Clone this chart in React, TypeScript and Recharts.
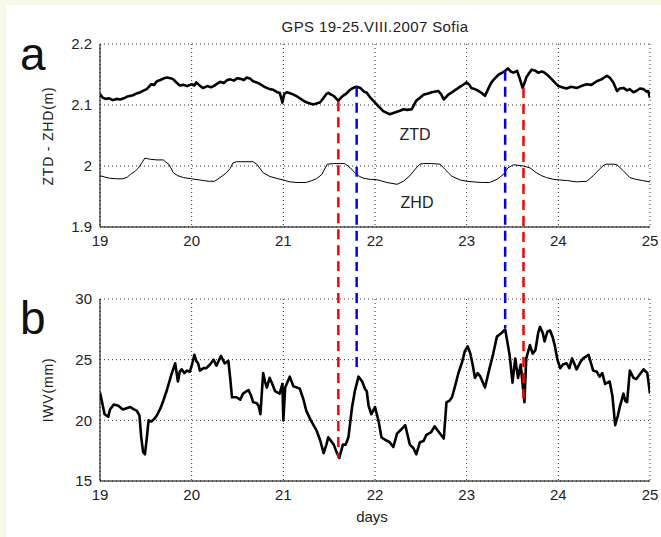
import { LineChart, Line, XAxis, YAxis, CartesianGrid, ReferenceLine } from "recharts"

// days of August 2007
const DAY_TICKS = [19, 20, 21, 22, 23, 24, 25]
const DELAY_TICKS = [1.9, 2.0, 2.1, 2.2]
const IWV_TICKS = [15, 20, 25, 30]

// ZTD (m)
const ZTD_DAYS = [
  19.0, 19.03, 19.06, 19.1, 19.14, 19.18, 19.22, 19.26, 19.3, 19.36, 19.4, 19.44, 19.48, 19.51, 19.54, 19.56,
  19.59, 19.62, 19.66, 19.7, 19.73, 19.77, 19.8, 19.84, 19.87, 19.91, 19.95, 19.98, 20.0, 20.03, 20.05, 20.08,
  20.11, 20.13, 20.17, 20.21, 20.24, 20.28, 20.31, 20.35, 20.39, 20.42, 20.46, 20.5, 20.53, 20.57, 20.6, 20.64,
  20.67, 20.71, 20.75, 20.79, 20.82, 20.85, 20.89, 20.93, 20.96, 20.98, 20.99, 21.01, 21.04, 21.08, 21.11, 21.15,
  21.19, 21.22, 21.26, 21.3, 21.33, 21.37, 21.4, 21.44, 21.47, 21.49, 21.52, 21.55, 21.58, 21.6, 21.63, 21.65,
  21.69, 21.72, 21.75, 21.78, 21.8, 21.84, 21.88, 21.91, 21.95, 22.0, 22.05, 22.09, 22.13, 22.16, 22.2, 22.24,
  22.28, 22.31, 22.35, 22.4, 22.45, 22.49, 22.53, 22.58, 22.62, 22.66, 22.69, 22.72, 22.75, 22.8, 22.85, 22.89,
  22.93, 22.97, 23.0, 23.03, 23.05, 23.09, 23.13, 23.17, 23.2, 23.24, 23.27, 23.31, 23.35, 23.39, 23.42, 23.45,
  23.48, 23.51, 23.55, 23.58, 23.61, 23.63, 23.65, 23.68, 23.71, 23.75, 23.78, 23.82, 23.85, 23.89, 23.93, 23.96,
  24.0, 24.04, 24.09, 24.14, 24.2, 24.25, 24.31, 24.36, 24.42, 24.47, 24.53, 24.56, 24.6, 24.64, 24.67, 24.71,
  24.75, 24.78, 24.82, 24.85, 24.89, 24.93, 24.96, 24.98, 25.0,
]
const ZTD_VALUES = [
  2.118, 2.112, 2.11, 2.111, 2.108, 2.11, 2.109, 2.111, 2.114, 2.116, 2.119, 2.121, 2.124, 2.126, 2.131, 2.134,
  2.133, 2.139, 2.141, 2.144, 2.145, 2.144, 2.142, 2.136, 2.132, 2.133, 2.131, 2.133, 2.134, 2.132, 2.137, 2.133,
  2.129, 2.128, 2.131, 2.129, 2.131, 2.135, 2.138, 2.136, 2.141, 2.142, 2.14, 2.144, 2.143, 2.141, 2.145, 2.143,
  2.139, 2.137, 2.134, 2.13, 2.128, 2.126, 2.125, 2.121, 2.12, 2.11, 2.104, 2.118, 2.121, 2.119, 2.117, 2.114,
  2.11, 2.107, 2.104, 2.102, 2.101, 2.103, 2.104, 2.112, 2.118, 2.12, 2.117, 2.115, 2.11, 2.107, 2.112, 2.115,
  2.119, 2.124, 2.127, 2.129, 2.13, 2.128, 2.122, 2.12, 2.112, 2.104, 2.096, 2.09, 2.087, 2.085, 2.087, 2.089,
  2.091, 2.093, 2.092, 2.093, 2.107, 2.112, 2.117, 2.119, 2.121, 2.122, 2.123, 2.118, 2.109, 2.117, 2.122, 2.126,
  2.13, 2.134, 2.137, 2.133, 2.128, 2.126, 2.123, 2.119, 2.115, 2.128, 2.137, 2.144, 2.15, 2.153, 2.156, 2.16,
  2.155, 2.153, 2.156, 2.143, 2.128, 2.136, 2.145, 2.152, 2.158, 2.156, 2.153, 2.155, 2.153, 2.148, 2.142, 2.137,
  2.131, 2.129, 2.127, 2.13, 2.128, 2.131, 2.134, 2.133, 2.139, 2.142, 2.148, 2.145, 2.137, 2.123, 2.127, 2.128,
  2.124, 2.126, 2.121, 2.123, 2.127, 2.126, 2.122, 2.123, 2.112,
]

// ZHD (m)
const ZHD_DAYS = [
  19.0, 19.05, 19.1, 19.18, 19.25, 19.3, 19.33, 19.38, 19.42, 19.46, 19.49, 19.52, 19.55, 19.62, 19.69, 19.72,
  19.75, 19.78, 19.8, 19.85, 19.91, 20.0, 20.09, 20.18, 20.25, 20.31, 20.38, 20.42, 20.45, 20.49, 20.58, 20.67,
  20.71, 20.75, 20.78, 20.85, 20.92, 21.0, 21.07, 21.15, 21.25, 21.31, 21.36, 21.42, 21.45, 21.48, 21.55, 21.62,
  21.67, 21.73, 21.78, 21.82, 21.87, 21.95, 22.0, 22.06, 22.13, 22.24, 22.31, 22.38, 22.44, 22.49, 22.53, 22.62,
  22.71, 22.76, 22.8, 22.84, 22.93, 23.0, 23.07, 23.16, 23.25, 23.33, 23.4, 23.45, 23.51, 23.56, 23.62, 23.69,
  23.76, 23.82, 23.87, 23.95, 24.02, 24.1, 24.2, 24.31, 24.38, 24.45, 24.5, 24.53, 24.6, 24.64, 24.71, 24.78,
  24.85, 24.92, 25.0,
]
const ZHD_VALUES = [
  1.984, 1.982, 1.98, 1.979, 1.979, 1.982, 1.986, 1.991, 1.997, 2.006, 2.013, 2.012, 2.011, 2.01, 2.01, 2.006,
  2.003, 1.995, 1.989, 1.984, 1.981, 1.979, 1.977, 1.975, 1.975, 1.981, 1.989, 1.996, 2.005, 2.007, 2.007, 2.007,
  2.003, 1.995, 1.989, 1.983, 1.98, 1.977, 1.974, 1.973, 1.973, 1.976, 1.979, 1.986, 1.995, 2.003, 2.004, 2.004,
  2.004, 1.997, 1.989, 1.984, 1.98, 1.978, 1.978, 1.976, 1.973, 1.97, 1.975, 1.984, 1.995, 2.003, 2.004, 2.004,
  2.003, 1.995, 1.989, 1.983, 1.977, 1.975, 1.974, 1.973, 1.973, 1.978, 1.986, 1.997, 2.002, 2.001, 2.0, 1.997,
  1.989, 1.984, 1.981, 1.978, 1.977, 1.976, 1.974, 1.975, 1.984, 1.995, 2.002, 2.003, 2.003, 2.002, 1.992, 1.981,
  1.978, 1.976, 1.974,
]

// IWV (mm)
const IWV_DAYS = [
  19.0, 19.02, 19.05, 19.09, 19.11, 19.15, 19.2, 19.25, 19.29, 19.33, 19.37, 19.4, 19.43, 19.45, 19.47, 19.49,
  19.51, 19.53, 19.56, 19.59, 19.62, 19.66, 19.69, 19.73, 19.78, 19.82, 19.85, 19.87, 19.89, 19.92, 19.95, 19.98,
  20.0, 20.03, 20.05, 20.07, 20.09, 20.13, 20.16, 20.2, 20.24, 20.27, 20.3, 20.32, 20.36, 20.4, 20.42, 20.44,
  20.49, 20.53, 20.56, 20.62, 20.65, 20.67, 20.71, 20.73, 20.75, 20.78, 20.8, 20.82, 20.85, 20.88, 20.91, 20.96,
  20.99, 21.0, 21.02, 21.07, 21.11, 21.15, 21.18, 21.22, 21.25, 21.3, 21.36, 21.4, 21.44, 21.47, 21.49, 21.52,
  21.55, 21.58, 21.61, 21.65, 21.68, 21.71, 21.75, 21.78, 21.82, 21.86, 21.89, 21.91, 21.93, 21.96, 22.0, 22.04,
  22.07, 22.11, 22.16, 22.2, 22.24, 22.28, 22.33, 22.38, 22.42, 22.45, 22.49, 22.53, 22.56, 22.61, 22.65, 22.69,
  22.75, 22.78, 22.81, 22.84, 22.88, 22.91, 22.95, 22.98, 23.01, 23.04, 23.07, 23.09, 23.12, 23.15, 23.2, 23.25,
  23.29, 23.33, 23.38, 23.42, 23.45, 23.47, 23.5, 23.53, 23.56, 23.59, 23.61, 23.63, 23.65, 23.69, 23.72, 23.75,
  23.78, 23.8, 23.83, 23.85, 23.88, 23.91, 23.94, 23.96, 23.99, 24.02, 24.05, 24.09, 24.12, 24.15, 24.2, 24.24,
  24.27, 24.33, 24.38, 24.42, 24.45, 24.48, 24.51, 24.56, 24.59, 24.62, 24.65, 24.67, 24.71, 24.73, 24.75, 24.78,
  24.82, 24.85, 24.89, 24.93, 24.97, 25.0,
]
const IWV_VALUES = [
  22.3, 21.6, 20.5, 20.3, 20.9, 21.3, 21.2, 20.9, 21.0, 21.1, 20.9, 20.8, 20.4, 18.6, 17.4, 17.2,
  18.5, 20.0, 19.9, 20.1, 20.4, 21.0, 21.6, 22.5, 23.8, 24.7, 23.2, 24.0, 24.2, 23.9, 24.1, 24.0,
  24.5, 25.4, 24.9, 24.7, 24.1, 24.3, 24.3, 24.6, 25.0, 24.5, 25.0, 25.3, 24.7, 24.9, 23.5, 21.9,
  21.9, 21.7, 22.2, 22.5, 22.0, 21.5, 21.4, 21.2, 20.5, 23.9, 23.2, 22.7, 23.5, 23.0, 22.4, 22.2,
  23.0, 20.0, 22.7, 23.6, 22.8, 22.7, 22.6, 21.7, 20.8, 20.0, 19.2, 18.4, 17.3, 18.0, 18.6, 18.3,
  18.0, 17.4, 16.9, 18.0, 18.0, 18.6, 21.1, 22.4, 23.6, 23.2, 22.6, 22.4, 21.2, 20.5, 21.1, 19.9,
  18.6, 18.4, 18.2, 17.8, 18.9, 19.2, 19.6, 18.0, 17.7, 17.2, 18.2, 18.3, 18.8, 19.0, 19.5, 19.1,
  18.5, 21.5, 21.6, 21.9, 23.0, 23.9, 24.8, 25.7, 26.1, 25.5, 24.4, 23.5, 23.9, 23.6, 22.7, 24.3,
  25.5, 26.9, 27.2, 27.5, 26.2, 25.3, 23.1, 25.1, 23.5, 24.6, 23.0, 21.5, 25.1, 26.2, 25.5, 25.8,
  27.2, 27.7, 27.2, 26.5, 27.3, 27.4, 26.8, 26.2, 25.0, 24.3, 24.6, 24.7, 24.3, 25.1, 24.2, 24.8,
  25.1, 25.4, 24.1, 24.0, 23.6, 23.9, 23.0, 23.2, 22.0, 19.6, 20.4, 21.1, 22.2, 21.6, 21.5, 24.1,
  23.5, 23.4, 23.8, 24.2, 23.9, 22.2,
]

// moments linking the two panels: ZTD value where the mark starts, IWV value where it ends
const MARK_DAYS = [21.6, 21.8, 23.42, 23.62]
const MARK_ZTD = [2.106, 2.13, 2.156, 2.128]
const MARK_IWV = [16.9, 24.0, 27.6, 21.8]
const MARK_TYPE = ["min", "max", "max", "min"]

const MARK_COLOR: Record<string, string> = { min: "#ff0000", max: "#0000ff" }
const FONT = '"Liberation Sans", Arial, sans-serif'
const TEXT = "#222"
const TICK = { fill: TEXT, fontSize: 15, fontFamily: FONT }

const toPoints = (days: number[], values: number[]) => days.map((day, i) => ({ day, v: values[i] }))

const ztdData = toPoints(ZTD_DAYS, ZTD_VALUES)
const zhdData = toPoints(ZHD_DAYS, ZHD_VALUES)
const iwvData = toPoints(IWV_DAYS, IWV_VALUES)

export default function App() {
  return (
    <div
      style={{
        position: "absolute",
        left: 0,
        top: 0,
        width: 661,
        height: 537,
        background: "#f9f9e8",
        overflow: "hidden",
      }}
    >
      <div style={{ position: "absolute", left: 6, top: 5, width: 655, height: 532, background: "#fff" }} />

      {/* a: zenith delays */}
      <div style={{ position: "absolute", left: 0, top: 0 }}>
        <LineChart width={661} height={262} margin={{ top: 44, right: 11, bottom: 5, left: 40 }}>
          <CartesianGrid stroke="#333" strokeDasharray="1 3" />
          <XAxis
            dataKey="day"
            type="number"
            domain={[19, 25]}
            ticks={DAY_TICKS}
            allowDataOverflow
            height={30}
            tick={TICK}
            tickLine={false}
            axisLine={{ stroke: "#000" }}
          />
          <XAxis
            xAxisId="top"
            orientation="top"
            type="number"
            domain={[19, 25]}
            ticks={DAY_TICKS}
            height={0}
            mirror
            tick={false}
            tickSize={5}
            axisLine={{ stroke: "#000" }}
            tickLine={{ stroke: "#000" }}
          />
          <YAxis
            type="number"
            domain={[1.9, 2.2]}
            ticks={DELAY_TICKS}
            allowDataOverflow
            width={60}
            tick={TICK}
            tickLine={false}
            axisLine={{ stroke: "#000" }}
          />
          <YAxis
            yAxisId="right"
            orientation="right"
            type="number"
            domain={[1.9, 2.2]}
            ticks={DELAY_TICKS}
            width={0}
            mirror
            tick={false}
            tickSize={5}
            axisLine={{ stroke: "#000" }}
            tickLine={{ stroke: "#000" }}
          />
          <Line data={zhdData} dataKey="v" stroke="#000" strokeWidth={1} dot={false} isAnimationActive={false} />
          <Line
            data={ztdData}
            dataKey="v"
            stroke="#000"
            strokeWidth={2.6}
            strokeLinejoin="round"
            dot={false}
            isAnimationActive={false}
          />
          {MARK_DAYS.map((d, i) => (
            <ReferenceLine
              key={i}
              segment={[
                { x: d, y: MARK_ZTD[i] },
                { x: d, y: 1.5 },
              ]}
              ifOverflow="visible"
              stroke={MARK_COLOR[MARK_TYPE[i]]}
              strokeWidth={2.5}
              strokeDasharray="10 6"
            />
          ))}
        </LineChart>
      </div>

      {/* b: integrated water vapour */}
      <div style={{ position: "absolute", left: 0, top: 262 }}>
        <LineChart width={661} height={275} margin={{ top: 37, right: 11, bottom: 6, left: 40 }}>
          <CartesianGrid stroke="#333" strokeDasharray="1 3" />
          <XAxis
            dataKey="day"
            type="number"
            domain={[19, 25]}
            ticks={DAY_TICKS}
            allowDataOverflow
            height={50}
            tick={TICK}
            tickLine={false}
            axisLine={{ stroke: "#000" }}
          />
          <XAxis
            xAxisId="top"
            orientation="top"
            type="number"
            domain={[19, 25]}
            ticks={DAY_TICKS}
            height={0}
            mirror
            tick={false}
            tickSize={5}
            axisLine={{ stroke: "#000" }}
            tickLine={{ stroke: "#000" }}
          />
          <YAxis
            type="number"
            domain={[15, 30]}
            ticks={IWV_TICKS}
            allowDataOverflow
            width={60}
            tick={TICK}
            tickLine={false}
            axisLine={{ stroke: "#000" }}
          />
          <YAxis
            yAxisId="right"
            orientation="right"
            type="number"
            domain={[15, 30]}
            ticks={IWV_TICKS}
            width={0}
            mirror
            tick={false}
            tickSize={5}
            axisLine={{ stroke: "#000" }}
            tickLine={{ stroke: "#000" }}
          />
          <Line
            data={iwvData}
            dataKey="v"
            stroke="#000"
            strokeWidth={2.6}
            strokeLinejoin="round"
            dot={false}
            isAnimationActive={false}
          />
          {MARK_DAYS.map((d, i) => (
            <ReferenceLine
              key={i}
              segment={[
                { x: d, y: 45 },
                { x: d, y: MARK_IWV[i] },
              ]}
              ifOverflow="visible"
              stroke={MARK_COLOR[MARK_TYPE[i]]}
              strokeWidth={2.5}
              strokeDasharray="10 6"
            />
          ))}
        </LineChart>
      </div>

      {/* titles and labels */}
      <svg
        width={661}
        height={537}
        style={{ position: "absolute", left: 0, top: 0, pointerEvents: "none" }}
        fontFamily={FONT}
        fill={TEXT}
      >
        <text x={375} y={32} fontSize={15} textAnchor="middle" letterSpacing={0.4}>
          GPS 19-25.VIII.2007 Sofia
        </text>
        <text x={20} y={70} fontSize={46} fill="#111">
          a
        </text>
        <text x={20} y={334} fontSize={46} fill="#111">
          b
        </text>
        <text x={0} y={0} fontSize={14} textAnchor="middle" letterSpacing={0.8} transform="translate(53,136) rotate(-90)">
          ZTD - ZHD(m)
        </text>
        <text x={0} y={0} fontSize={14} textAnchor="middle" letterSpacing={0.8} transform="translate(53,390) rotate(-90)">
          IWV(mm)
        </text>
        <text x={415} y={140} fontSize={16} textAnchor="middle">
          ZTD
        </text>
        <text x={417} y={208} fontSize={16} textAnchor="middle">
          ZHD
        </text>
        <text x={372} y={522} fontSize={15} textAnchor="middle">
          days
        </text>
      </svg>
    </div>
  )
}
